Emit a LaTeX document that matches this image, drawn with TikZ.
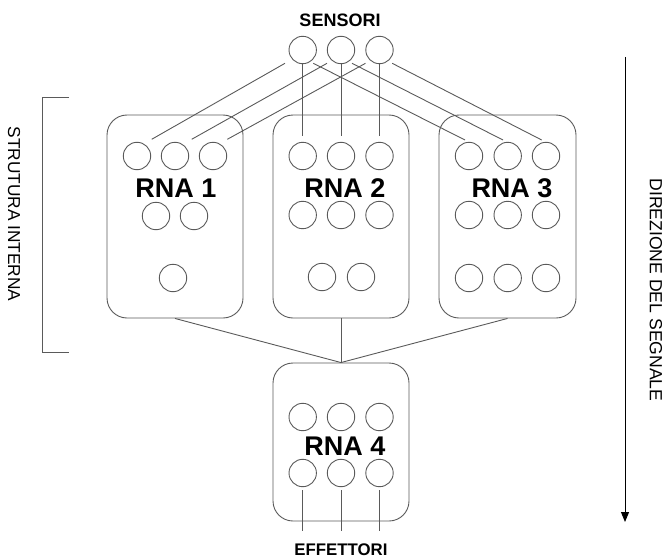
\documentclass[tikz,border=0pt]{standalone}
\usepackage{fontspec}
\setmainfont{Liberation Sans}
\usetikzlibrary{arrows.meta}
\definecolor{ln}{HTML}{5A5A5A}
\tikzset{
  neur/.style={circle,draw=ln,line width=0.9pt,minimum size=27.4pt,inner sep=0pt},
  netbox/.style={draw=ln,line width=0.9pt,rounded corners=20pt,minimum width=136pt,inner sep=0pt},
  wire/.style={draw=ln,line width=0.9pt},
  rna/.style={font=\fontsize{27}{30}\selectfont\bfseries,inner sep=0pt},
  io/.style={font=\fontsize{18}{20}\selectfont\bfseries,inner sep=0pt},
  side/.style={font=\fontsize{17.3}{20}\selectfont,inner sep=0pt,rotate=-90}
}
\begin{document}
\begin{tikzpicture}[x=1pt,y=-1pt]
\useasboundingbox (0,0) rectangle (668,559);
% boxes
\node[netbox,minimum height=203pt] (b1) at (175,216.5) {};
\node[netbox,minimum height=203pt] (b2) at (341,216.5) {};
\node[netbox,minimum height=203pt,minimum width=137pt] (b3) at (507.5,216.5) {};
\node[netbox,minimum height=158pt] (b4) at (341,442) {};
% sensors
\node[io] (sens) at (340,20) {SENSORI};
\node[neur] (s1) at (302.7,50) {};
\node[neur] (s2) at (341,50) {};
\node[neur] (s3) at (379.5,50) {};
% RNA 1
\node[neur] (a1) at (137,156) {};
\node[neur] (a2) at (175,156) {};
\node[neur] (a3) at (213,156) {};
\node[neur] (a4) at (156,216) {};
\node[neur] (a5) at (194,216) {};
\node[neur] (a6) at (173,278) {};
\node[rna] (l1) at (176,188) {RNA 1};
% RNA 2
\node[neur] (c1) at (302.7,156) {};
\node[neur] (c2) at (341,156) {};
\node[neur] (c3) at (379.5,156) {};
\node[neur] (c4) at (302.7,215) {};
\node[neur] (c5) at (341,215) {};
\node[neur] (c6) at (379.5,215) {};
\node[neur] (c7) at (322,277) {};
\node[neur] (c8) at (361,277) {};
\node[rna] (l2) at (345,188) {RNA 2};
% RNA 3
\node[neur] (d1) at (469,156) {};
\node[neur] (d2) at (507.7,156) {};
\node[neur] (d3) at (546,156) {};
\node[neur] (d4) at (469,215) {};
\node[neur] (d5) at (507.7,215) {};
\node[neur] (d6) at (546,215) {};
\node[neur] (d7) at (469,278) {};
\node[neur] (d8) at (507.7,278) {};
\node[neur] (d9) at (546,278) {};
\node[rna] (l3) at (512,188) {RNA 3};
% RNA 4
\node[neur] (e1) at (302.7,417) {};
\node[neur] (e2) at (341,417) {};
\node[neur] (e3) at (379.5,417) {};
\node[neur] (e4) at (302.7,473) {};
\node[neur] (e5) at (341,473) {};
\node[neur] (e6) at (379.5,473) {};
\node[rna] (l4) at (345,446) {RNA 4};
\node[io,font=\fontsize{16.8}{20}\selectfont\bfseries] (eff) at (341,550) {EFFETTORI};
% sensor wires to RNA 1
\draw[wire] ([shift={(-17.7,13.3)}]s1.center) -- ([shift={(14.7,-16.7)}]a1.center);
\draw[wire] ([shift={(-14,13.3)}]s2.center) -- ([shift={(16.7,-16.7)}]a2.center);
\draw[wire] ([shift={(-14,13.3)}]s3.center) -- ([shift={(14.3,-16.7)}]a3.center);
% sensor wires to RNA 2
\draw[wire] ([yshift=-13.3pt]s1.center) -- ([yshift=20pt]c1.center);
\draw[wire] ([yshift=-13.3pt]s2.center) -- ([yshift=20pt]c2.center);
\draw[wire] ([yshift=-13.3pt]s3.center) -- ([yshift=20pt]c3.center);
% sensor wires to RNA 3
\draw[wire] ([shift={(10.6,13.3)}]s1.center) -- ([shift={(-4,-16)}]d1.center);
\draw[wire] ([shift={(11,13.3)}]s2.center) -- ([shift={(-4.7,-16)}]d2.center);
\draw[wire] ([shift={(12.7,13.3)}]s3.center) -- ([shift={(-4.3,-16)}]d3.center);
% RNA boxes to RNA 4
\draw[wire] (b1.south) -- (b4.north);
\draw[wire] (b2.south) -- (b4.north);
\draw[wire] (b3.south) -- (b4.north);
% effectors
\coordinate (o1) at (302.7,531);
\coordinate (o2) at (341,531);
\coordinate (o3) at (379.5,531);
\draw[wire] ([yshift=-17pt]e4.center) -- (o1);
\draw[wire] ([yshift=-17pt]e5.center) -- (o2);
\draw[wire] ([yshift=-17pt]e6.center) -- (o3);
% bracket
\coordinate (k1) at (69,97);
\coordinate (k2) at (42,97);
\coordinate (k3) at (42,352);
\coordinate (k4) at (69,352);
\draw[wire] (k1) -- (k2) -- (k3) -- (k4);
\node[side] (si) at (14,214) {STRUTURA INTERNA};
% signal direction
\coordinate (ar1) at (625,57);
\coordinate (ar2) at (625,522);
\draw[line width=0.9pt,-{Triangle[length=10pt,width=8pt]}] (ar1) -- (ar2);
\node[side,font=\fontsize{17.6}{20}\selectfont] (dir) at (656,290) {DIREZIONE DEL SEGNALE};
\end{tikzpicture}
\end{document}
